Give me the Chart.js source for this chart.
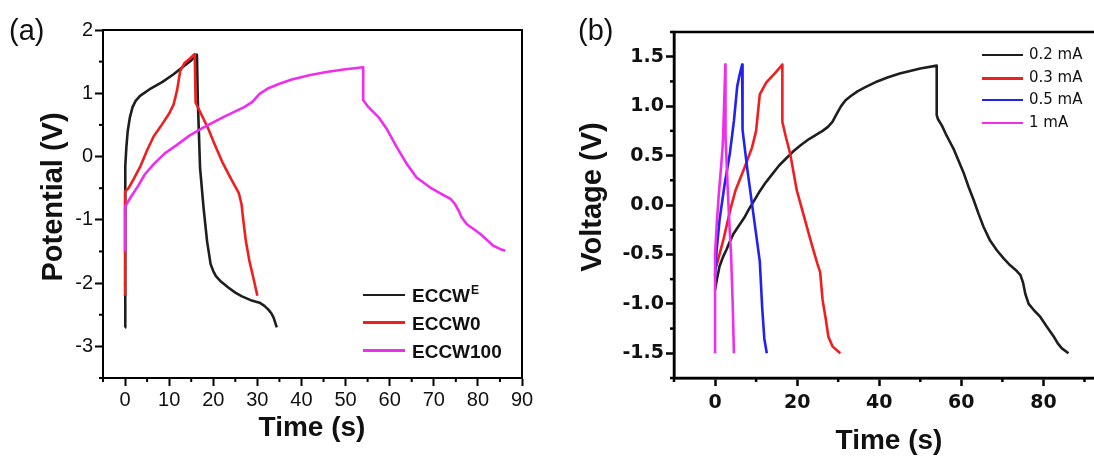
<!DOCTYPE html>
<html>
<head>
<meta charset="utf-8">
<script src="https://cdn.jsdelivr.net/npm/chart.js@4.4.1/dist/chart.umd.min.js"></script>
<style>
  html, body { margin: 0; padding: 0; width: 1094px; height: 456px; overflow: hidden; background: #fff; }
  canvas { position: absolute; top: 0; }
  .t { position: absolute; white-space: nowrap; color: #111; line-height: 1; font-family: 'Liberation Sans', Arial, sans-serif; }
  .lg { position: absolute; height: 0; }
</style>
</head>
<body>
<canvas id="ca" width="547" height="456" style="left:0px"></canvas>
<canvas id="cb" width="565" height="456" style="left:550px"></canvas>

<div class="t" style="left:9px; top:16px; font-size:29px;">(a)</div>
<div class="t" style="left:578px; top:16px; font-size:29px;">(b)</div>

<div class="t" style="left:52px; top:197px; font-size:29px; font-weight:bold; transform:translate(-50%,-50%) rotate(-90deg);">Potential (V)</div>
<div class="t" style="left:312px; top:413px; font-size:28px; font-weight:bold; transform:translateX(-50%);">Time (s)</div>
<div class="t" style="left:591px; top:197px; font-size:29px; font-weight:bold; transform:translate(-50%,-50%) rotate(-90deg);">Voltage (V)</div>
<div class="t" style="left:889px; top:426px; font-size:28px; font-weight:bold; transform:translateX(-50%);">Time (s)</div>

<!-- legend (a) -->
<div class="lg" style="left:363px; top:294px; width:42px; border-top:2.5px solid #1e1e1e;"></div>
<div class="t" style="left:412px; top:286px; font-size:19px; font-weight:bold;">ECCW<span style="font-size:12px; position:relative; top:-8px; margin-left:1px;">E</span></div>
<div class="lg" style="left:363px; top:321px; width:42px; border-top:3.5px solid #f01e1e;"></div>
<div class="t" style="left:412px; top:314px; font-size:19px; font-weight:bold;">ECCW0</div>
<div class="lg" style="left:363px; top:349px; width:42px; border-top:3px solid #ee2eee;"></div>
<div class="t" style="left:412px; top:342px; font-size:19px; font-weight:bold;">ECCW100</div>

<!-- legend (b) -->
<div class="lg" style="left:982px; top:54px; width:41px; border-top:2.5px solid #1e1e1e;"></div>
<div class="t" style="left:1029px; top:47px; font-size:15px; font-family:'DejaVu Sans';">0.2 mA</div>
<div class="lg" style="left:982px; top:77px; width:41px; border-top:3px solid #f01e1e;"></div>
<div class="t" style="left:1029px; top:70px; font-size:15px; font-family:'DejaVu Sans';">0.3 mA</div>
<div class="lg" style="left:982px; top:99px; width:41px; border-top:2.5px solid #2222ee;"></div>
<div class="t" style="left:1029px; top:92px; font-size:15px; font-family:'DejaVu Sans';">0.5 mA</div>
<div class="lg" style="left:982px; top:122px; width:41px; border-top:2.5px solid #ee2eee;"></div>
<div class="t" style="left:1029px; top:115px; font-size:15px; font-family:'DejaVu Sans';">1 mA</div>

<script>
// ---------- Panel (a) data ----------
const eccwE_t = [0, 0, 0.1, 0.3, 0.6, 1.1, 1.7, 2.4, 3.4, 5.5, 8.5, 11.0, 13.0, 15.0, 16.3,
                 16.5, 17.0, 17.8, 18.6, 19.4, 20.0, 20.6, 21.8, 23.4, 25.0, 26.5, 28.5, 30.5, 31.6, 32.5, 33.2, 33.7, 34.4];
const eccwE_v = [-2.70, -0.50, -0.15, 0.15, 0.40, 0.62, 0.78, 0.88, 0.96, 1.06, 1.18, 1.30, 1.41, 1.52, 1.61,
                 0.88, -0.17, -0.81, -1.34, -1.70, -1.81, -1.89, -1.98, -2.07, -2.15, -2.21, -2.27, -2.31, -2.36, -2.42, -2.48, -2.55, -2.70];

const eccw0_t = [0, 0, 0.8, 2.0, 3.5, 5.0, 6.5, 8.3, 10.0, 11.0, 11.8, 12.5, 13.5, 14.7, 15.8,
                 16.0, 17.2, 18.8, 20.4, 22.0, 24.0, 25.8, 26.4, 26.8, 27.4, 28.2, 29.2, 30.0];
const eccw0_v = [-2.20, -0.55, -0.50, -0.35, -0.15, 0.10, 0.32, 0.50, 0.68, 0.82, 1.05, 1.35, 1.48, 1.55, 1.62,
                 0.85, 0.68, 0.45, 0.18, -0.08, -0.35, -0.58, -0.75, -1.00, -1.34, -1.65, -1.95, -2.20];

const eccw100_t = [0, 0, 0.6, 1.5, 3.0, 4.5, 6.5, 9.0, 11.7, 14.6, 17.8, 22.5, 27.0, 28.8, 30.5, 32.5, 35.0, 38.0,
                   42.0, 46.0, 50.0, 54.0, 54.0, 55.2, 57.5, 59.3, 61.6, 63.9, 66.1, 69.2, 72.0, 73.8, 74.8,
                   75.6, 76.3, 77.5, 80.5, 83.5, 85.0, 86.2];
const eccw100_v = [-1.50, -0.80, -0.72, -0.62, -0.46, -0.28, -0.12, 0.05, 0.18, 0.33, 0.46, 0.63, 0.78, 0.86, 0.99, 1.08, 1.15, 1.22,
                   1.29, 1.34, 1.38, 1.41, 0.89, 0.78, 0.62, 0.44, 0.15, -0.12, -0.33, -0.49, -0.60, -0.67, -0.75,
                   -0.85, -0.96, -1.07, -1.22, -1.41, -1.46, -1.49];

// ---------- Panel (b) data ----------
const i02_t = [0, 0.5, 1.1, 1.9, 2.8, 3.6, 4.5, 5.8, 7.1, 8.3, 9.6, 10.9, 12.2, 13.9, 15.6, 17.3, 19.0, 21.0, 23.0,
               24.6, 26.2, 27.5, 28.6, 29.6, 30.7, 31.8, 33.0, 34.7, 36.5, 39.5, 42.0, 45.0, 50.0, 54.0,
               54.0, 54.3, 55.3, 56.2, 57.2, 58.2, 59.4, 60.6, 61.8, 63.0, 64.2, 65.4, 67.0, 68.7, 70.3, 71.9,
               73.3, 74.4, 75.0, 75.6, 76.4, 77.8, 79.2, 80.8, 82.5, 83.5, 84.5, 86.1];
const i02_v = [-0.86, -0.74, -0.62, -0.53, -0.45, -0.37, -0.29, -0.21, -0.13, -0.04, 0.05, 0.14, 0.22, 0.31, 0.40, 0.47, 0.54, 0.61, 0.67,
               0.71, 0.75, 0.79, 0.84, 0.92, 1.00, 1.06, 1.10, 1.15, 1.19, 1.25, 1.29, 1.33, 1.38, 1.41,
               0.91, 0.87, 0.80, 0.72, 0.64, 0.56, 0.44, 0.32, 0.18, 0.05, -0.09, -0.22, -0.36, -0.46, -0.54, -0.61,
               -0.66, -0.71, -0.78, -0.90, -1.00, -1.07, -1.13, -1.23, -1.33, -1.40, -1.45, -1.50];

const i03_t = [0, 0.3, 2.1, 3.7, 5.0, 7.1, 9.0, 10.0, 10.9, 12.5, 14.5, 16.4,
               16.4, 17.3, 18.3, 19.9, 21.9, 23.5, 24.9, 25.6, 26.2, 27.0, 27.6, 28.6, 30.5];
const i03_v = [-0.65, -0.62, -0.34, -0.05, 0.15, 0.37, 0.58, 0.75, 1.12, 1.24, 1.33, 1.42,
               0.84, 0.68, 0.52, 0.15, -0.15, -0.39, -0.59, -0.68, -0.96, -1.16, -1.33, -1.43, -1.50];

const i05_t = [0, 0.4, 1.1, 2.3, 3.6, 4.6, 5.4, 6.0, 6.6, 6.7, 7.9, 9.3, 10.9, 11.5, 12.0, 12.6];
const i05_v = [-0.72, -0.45, -0.15, 0.20, 0.52, 0.85, 1.20, 1.32, 1.42, 0.76, 0.35, -0.08, -0.57, -1.05, -1.35, -1.50];

const i1_t = [0, 0, 0.4, 0.9, 1.5, 1.9, 2.2, 2.5, 2.5, 2.6, 2.8, 3.1, 3.5, 3.9, 4.3, 4.6];
const i1_v = [-1.50, -0.50, -0.20, 0.10, 0.40, 0.62, 1.00, 1.42, 1.10, 0.70, 0.45, 0.15, -0.20, -0.50, -1.00, -1.50];

// ---------- Tick values ----------
const xTicksA = [0, 10, 20, 30, 40, 50, 60, 70, 80, 90];
const yTicksA = [2, 1, 0, -1, -2, -3];
const xMinorA = [-5, 5, 15, 25, 35, 45, 55, 65, 75, 85];
const yMinorA = [1.5, 0.5, -0.5, -1.5, -2.5, -3.5];

const xTicksB = [0, 20, 40, 60, 80];
const yTicksB = [1.5, 1.0, 0.5, 0.0, -0.5, -1.0, -1.5];
const xMinorB = [-10, 10, 30, 50, 70, 90];
const yMinorB = [1.75, 1.25, 0.75, 0.25, -0.25, -0.75, -1.25, -1.75];

const zip = (t, v) => t.map((x, i) => ({ x: x, y: v[i] }));

const framePlugin = {
  id: 'frameMinor',
  afterDraw(chart, args, opts) {
    const { ctx, chartArea: a, scales } = chart;
    ctx.save();
    ctx.strokeStyle = '#000';
    ctx.lineWidth = opts.lw;
    opts.xm.forEach(v => {
      const p = scales.x.getPixelForValue(v);
      ctx.beginPath(); ctx.moveTo(p, a.bottom); ctx.lineTo(p, a.bottom + opts.len); ctx.stroke();
    });
    opts.ym.forEach(v => {
      const p = scales.y.getPixelForValue(v);
      ctx.beginPath(); ctx.moveTo(a.left, p); ctx.lineTo(a.left - opts.len, p); ctx.stroke();
    });
    ctx.strokeRect(a.left, a.top, a.right - a.left, a.bottom - a.top);
    ctx.restore();
  }
};

function ds(label, data, color, order, w) {
  return { label, data, borderColor: color, backgroundColor: color, borderWidth: w || 2.6,
           pointRadius: 0, showLine: true, tension: 0, borderJoinStyle: 'round', order };
}

function scales(o) {
  return {
    x: {
      type: 'linear', min: o.xmin, max: o.xmax,
      afterBuildTicks: s => { s.ticks = o.xt.map(v => ({ value: v })); },
      afterFit: s => { s.height = o.xh; },
      grid: { display: true, drawOnChartArea: false, drawTicks: true, tickLength: 8, tickWidth: o.lw, tickColor: '#000' },
      border: { display: true, color: '#000', width: o.lw },
      ticks: { color: '#111', font: o.font, padding: o.xpad, maxRotation: 0, autoSkip: false, callback: o.xfmt }
    },
    y: {
      type: 'linear', min: o.ymin, max: o.ymax,
      afterBuildTicks: s => { s.ticks = o.yt.map(v => ({ value: v })); },
      afterFit: s => { s.width = o.yw; },
      grid: { display: true, drawOnChartArea: false, drawTicks: true, tickLength: 8, tickWidth: o.lw, tickColor: '#000' },
      border: { display: true, color: '#000', width: o.lw },
      ticks: { color: '#111', font: o.font, padding: 2, autoSkip: false, callback: o.yfmt }
    }
  };
}

new Chart(document.getElementById('ca'), {
  type: 'scatter',
  data: {
    datasets: [
      ds('ECCWE', zip(eccwE_t, eccwE_v), '#1e1e1e', 3),
      ds('ECCW0', zip(eccw0_t, eccw0_v), '#f01e1e', 2),
      ds('ECCW100', zip(eccw100_t, eccw100_v), '#ee2eee', 1)
    ]
  },
  options: {
    responsive: false, animation: false,
    layout: { padding: { left: 0, top: 30, right: 25, bottom: 0 } },
    plugins: { legend: { display: false }, tooltip: { enabled: false },
               frameMinor: { xm: xMinorA, ym: yMinorA, len: 4, lw: 2 } },
    scales: scales({ xmin: -5, xmax: 90, ymin: -3.5, ymax: 2, xt: xTicksA, yt: yTicksA, xh: 78, yw: 103, lw: 2,
                     xpad: 2, font: { family: 'Liberation Sans', size: 20 },
                     xfmt: v => String(v), yfmt: v => String(v) })
  },
  plugins: [framePlugin]
});

new Chart(document.getElementById('cb'), {
  type: 'scatter',
  data: {
    datasets: [
      ds('0.2 mA', zip(i02_t, i02_v), '#1e1e1e', 4),
      ds('0.3 mA', zip(i03_t, i03_v), '#f01e1e', 3),
      ds('0.5 mA', zip(i05_t, i05_v), '#2222ee', 2),
      ds('1 mA', zip(i1_t, i1_v), '#ee2eee', 1)
    ]
  },
  options: {
    responsive: false, animation: false,
    layout: { padding: { left: 0, top: 32, right: 10, bottom: 0 } },
    plugins: { legend: { display: false }, tooltip: { enabled: false },
               frameMinor: { xm: xMinorB, ym: yMinorB, len: 4, lw: 2.5 } },
    scales: scales({ xmin: -10, xmax: 95, ymin: -1.75, ymax: 1.75, xt: xTicksB, yt: yTicksB, xh: 78, yw: 124, lw: 2.5,
                     xpad: 6, font: { family: 'DejaVu Sans', size: 19, weight: 'bold' },
                     xfmt: v => String(v), yfmt: v => Number(v).toFixed(1) })
  },
  plugins: [framePlugin]
});
</script>
</body>
</html>
